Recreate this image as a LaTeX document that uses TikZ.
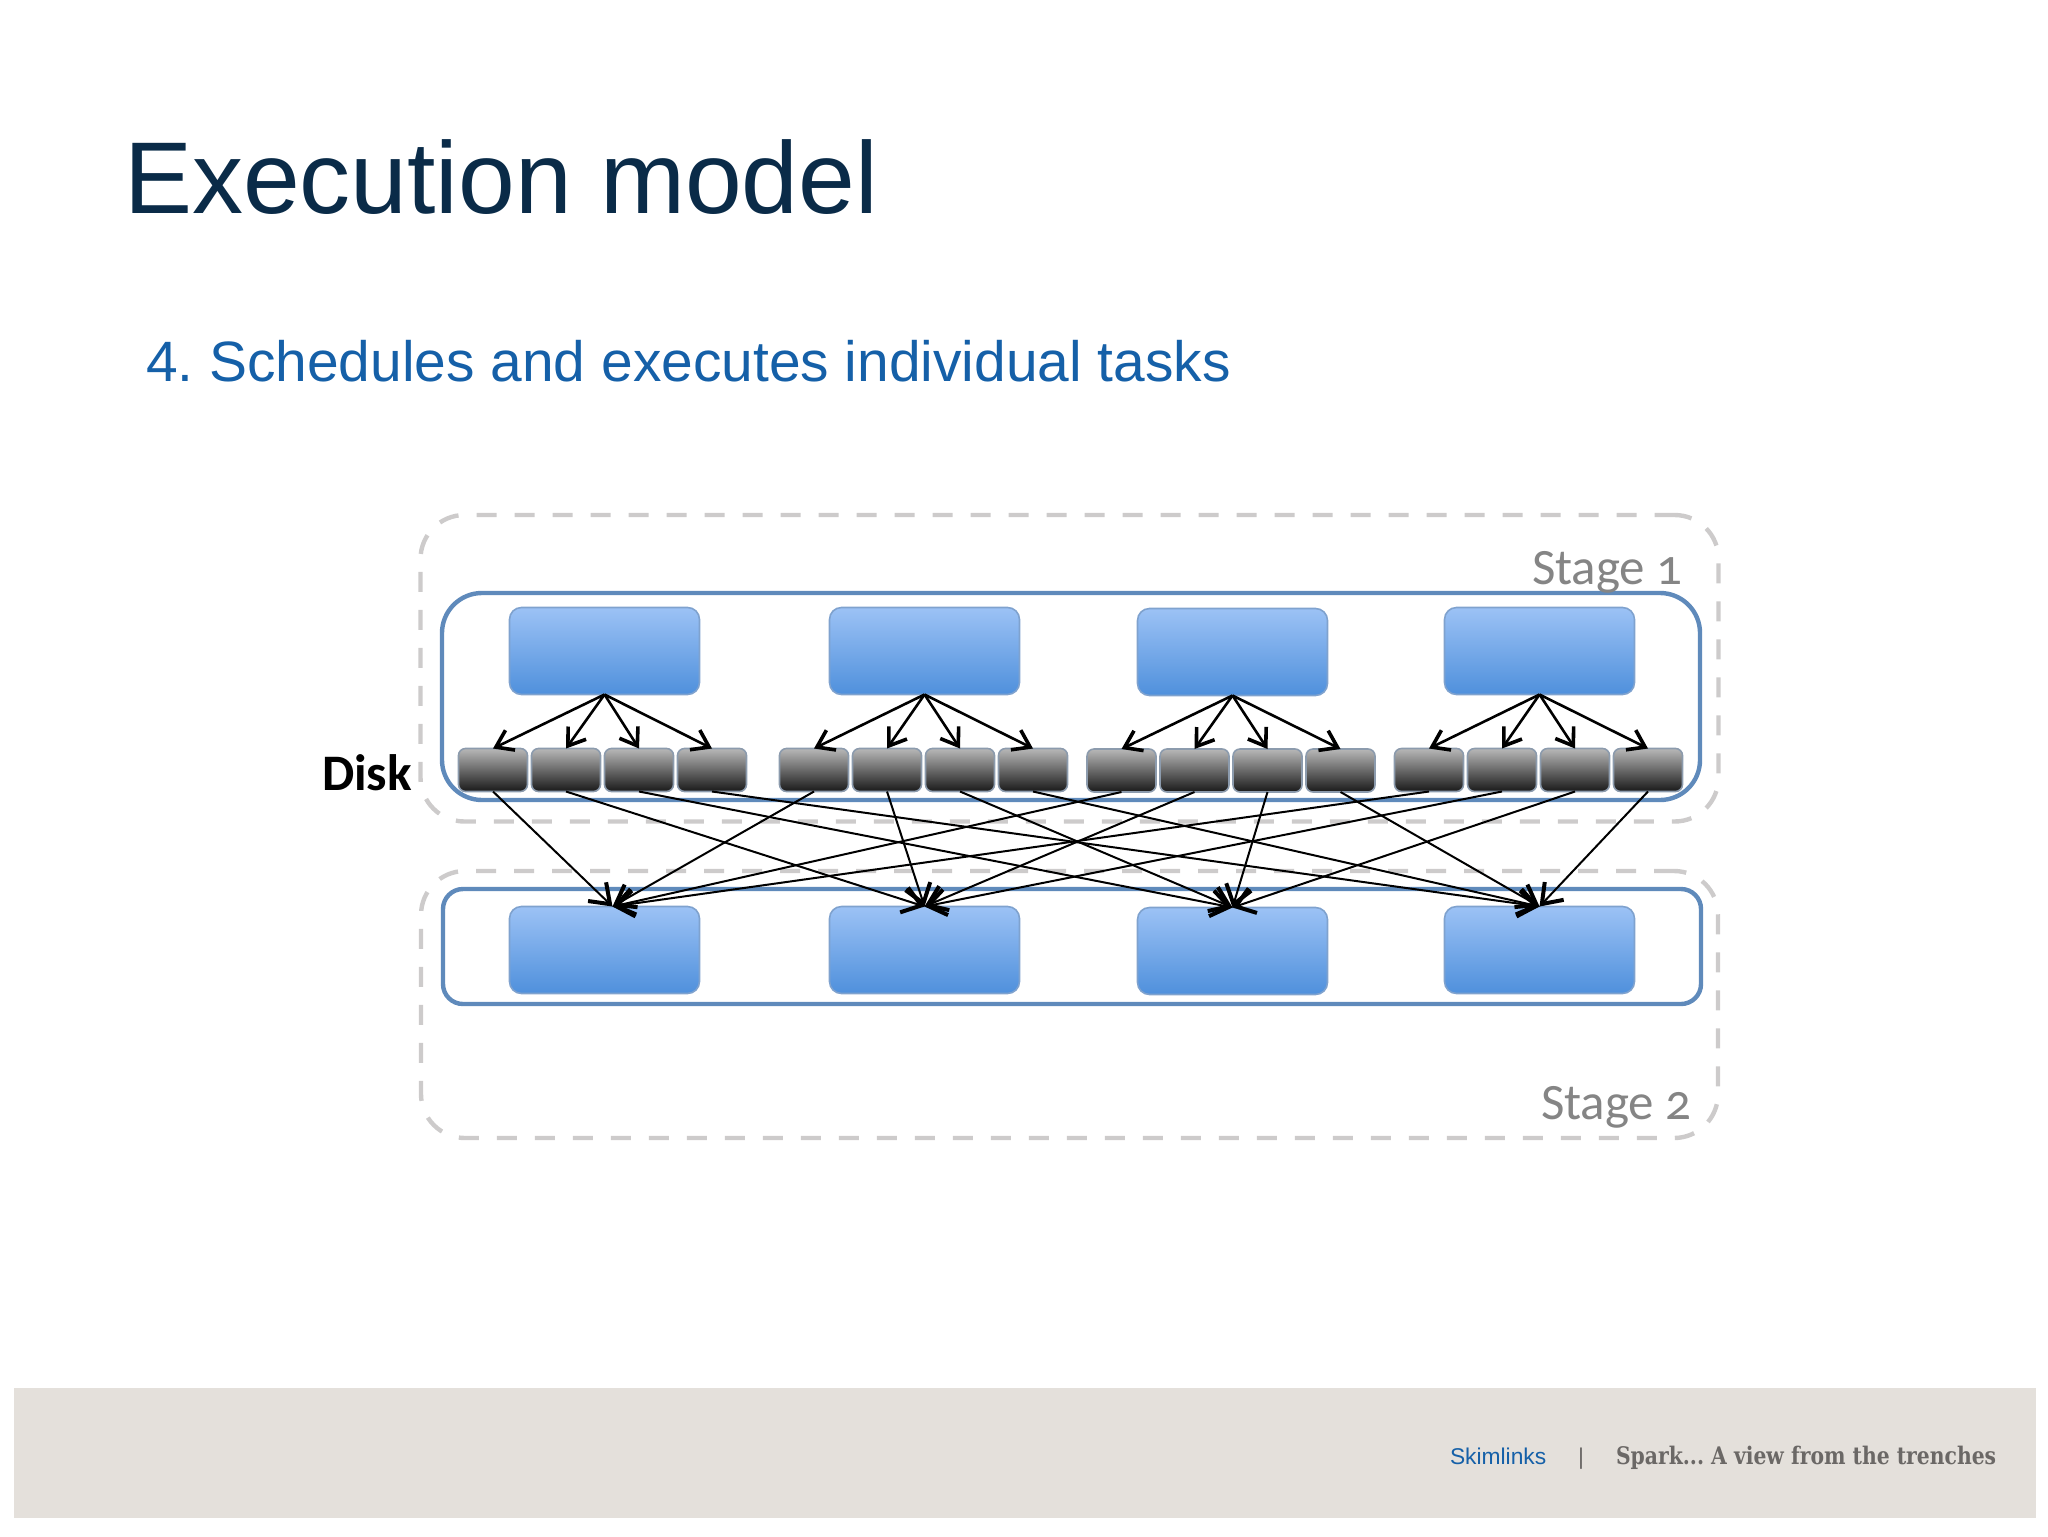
\documentclass[tikz,border=0pt]{standalone}
\usepackage{fontspec}
\usepackage{tikz}
\usetikzlibrary{positioning}
\usetikzlibrary{arrows.meta}
\setmainfont{Liberation Sans}
\newfontfamily\labelfont[Numbers=OldStyle]{Carlito}
\newfontfamily\slabfont[FakeStretch=0.84]{DejaVu Serif}
\definecolor{titlecol}{HTML}{0A2B48}
\definecolor{linkcol}{HTML}{1560A8}
\definecolor{footcol}{HTML}{E4E0DB}
\definecolor{footgrey}{HTML}{6B6866}
\definecolor{dashcol}{HTML}{CDCBCB}
\definecolor{framecol}{HTML}{5F8ABB}
\definecolor{taskedge}{HTML}{7FA2CE}
\definecolor{tasktop}{HTML}{9CC2F5}
\definecolor{taskbot}{HTML}{4F90DC}
\definecolor{diskedge}{HTML}{8C9BAD}
\definecolor{stagecol}{HTML}{858585}
\tikzset{
	stagebox/.style={draw=dashcol, line width=2.2pt, dash pattern=on 10pt off 9pt, rounded corners=22pt, inner sep=0, outer sep=0},
	framebox/.style={draw=framecol, line width=2.2pt, inner sep=0, outer sep=0},
	task/.style={draw=taskedge, line width=0.8pt, rounded corners=6pt, top color=tasktop, bottom color=taskbot, minimum width=95pt, minimum height=43.5pt, inner sep=0, outer sep=0},
	disk/.style={draw=diskedge, line width=0.8pt, rounded corners=3.5pt, top color=black!28, bottom color=black!90, minimum width=34.5pt, minimum height=21.5pt, inner sep=0, outer sep=0},
	txt/.style={anchor=base west, inner sep=0, outer sep=0},
	write/.style={-{Straight Barb[length=8pt, width=11pt, line width=1.8pt]}, line width=1.3pt, black},
	read/.style={-{Straight Barb[length=9pt, width=13pt, line width=2pt]}, line width=1pt, black}
}
\frenchspacing
\begin{document}
\begin{tikzpicture}[x=0.5pt, y=-0.5pt]
	\useasboundingbox (0,0) rectangle (2048,1536);
	\node[txt, font=\fontsize{51}{51}\selectfont, text=titlecol] (title) at (124,213) {Execution model};
	\node[txt, font=\fontsize{28.45}{30}\selectfont, text=linkcol] (subtitle) at (146,381) {4. Schedules and executes individual tasks};
	\node[stagebox, minimum width=649pt, minimum height=153.25pt] (stage1) at (1069.5,668.25) {};
	\node[stagebox, minimum width=648.5pt, minimum height=133.5pt] (stage2) at (1069.5,1004.5) {};
	\node[framebox, rounded corners=20pt, minimum width=629pt, minimum height=103.5pt] (frame1) at (1071,696.5) {};
	\node[framebox, rounded corners=10pt, minimum width=629pt, minimum height=57.5pt] (frame2) at (1072,946.5) {};
	\node[txt, font=\labelfont\fontsize{25.5}{25.5}\selectfont, text=stagecol] (label1) at (1532,584) {Stage 1};
	\node[txt, font=\labelfont\fontsize{25.5}{25.5}\selectfont, text=stagecol] (label2) at (1541,1119) {Stage 2};
	\node[txt, font=\labelfont\bfseries\fontsize{25.6}{25.6}\selectfont] (diskl) at (322,790) {Disk};
	\node[task] (t1) at (604.5,651) {};
	\node[task, right=65pt of t1] (t2) {};
	\node[task, right=59pt of t2, yshift=-0.5pt] (t3) {};
	\node[task, right=58.5pt of t3, yshift=0.5pt] (t4) {};
	\node[task, below=106pt of t1] (l1) {};
	\node[task, below=106pt of t2] (l2) {};
	\node[task, below=106pt of t3] (l3) {};
	\node[task, below=106pt of t4] (l4) {};
	\node[disk] (d11) at (493,770) {};
	\node[disk, right=2pt of d11] (d12) {};
	\node[disk, right=2pt of d12] (d13) {};
	\node[disk, right=2pt of d13] (d14) {};
	\node[disk] (d21) at (814,770) {};
	\node[disk, right=2pt of d21] (d22) {};
	\node[disk, right=2pt of d22] (d23) {};
	\node[disk, right=2pt of d23] (d24) {};
	\node[disk] (d31) at (1121.5,770.5) {};
	\node[disk, right=2pt of d31] (d32) {};
	\node[disk, right=2pt of d32] (d33) {};
	\node[disk, right=2pt of d33] (d34) {};
	\node[disk] (d41) at (1429,770) {};
	\node[disk, right=2pt of d41] (d42) {};
	\node[disk, right=2pt of d42] (d43) {};
	\node[disk, right=2pt of d43] (d44) {};
	\draw[write] (t1.south) -- (d11.north);
	\draw[write] (t1.south) -- (d12.north);
	\draw[write] (t1.south) -- (d13.north);
	\draw[write] (t1.south) -- (d14.north);
	\draw[write] (t2.south) -- (d21.north);
	\draw[write] (t2.south) -- (d22.north);
	\draw[write] (t2.south) -- (d23.north);
	\draw[write] (t2.south) -- (d24.north);
	\draw[write] (t3.south) -- (d31.north);
	\draw[write] (t3.south) -- (d32.north);
	\draw[write] (t3.south) -- (d33.north);
	\draw[write] (t3.south) -- (d34.north);
	\draw[write] (t4.south) -- (d41.north);
	\draw[write] (t4.south) -- (d42.north);
	\draw[write] (t4.south) -- (d43.north);
	\draw[write] (t4.south) -- (d44.north);
	\draw[read] (d11.south) -- ([xshift=4pt]l1.north);
	\draw[read] (d21.south) -- ([xshift=4pt]l1.north);
	\draw[read] (d31.south) -- ([xshift=4pt]l1.north);
	\draw[read] (d41.south) -- ([xshift=4pt]l1.north);
	\draw[read] (d12.south) -- (l2.north);
	\draw[read] (d22.south) -- (l2.north);
	\draw[read] (d32.south) -- (l2.north);
	\draw[read] (d42.south) -- (l2.north);
	\draw[read] (d13.south) -- (l3.north);
	\draw[read] (d23.south) -- (l3.north);
	\draw[read] (d33.south) -- (l3.north);
	\draw[read] (d43.south) -- (l3.north);
	\draw[read] (d14.south) -- (l4.north);
	\draw[read] (d24.south) -- (l4.north);
	\draw[read] (d34.south) -- (l4.north);
	\draw[read] (d44.south) -- (l4.north);
	\node[fill=footcol, minimum width=1010.75pt, minimum height=65pt, inner sep=0, outer sep=0] (footer) at (1024.75,1453) {};
	\node[txt, font=\fontsize{11.4}{12}\selectfont, text=linkcol] (company) at (1450,1464) {Skimlinks};
	\node[txt, font=\fontsize{11.4}{12}\selectfont, text=footgrey] (sep) at (1578,1464) {|};
	\node[txt, font=\slabfont\bfseries\fontsize{12.1}{12}\selectfont, text=footgrey] (deck) at (1616,1464) {Spark... A view from the trenches};
\end{tikzpicture}
\end{document}
